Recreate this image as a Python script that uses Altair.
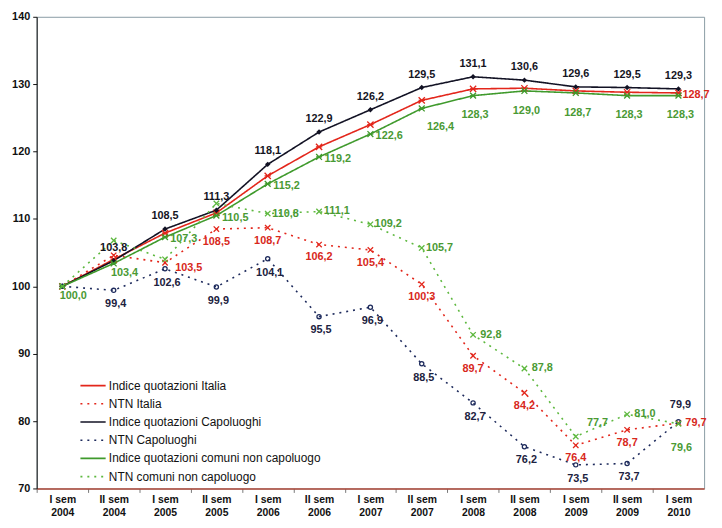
import altair as alt
import pandas as pd

cats = ["I sem 2004", "II sem 2004", "I sem 2005", "II sem 2005", "I sem 2006",
        "II sem 2006", "I sem 2007", "II sem 2007", "I sem 2008", "II sem 2008",
        "I sem 2009", "II sem 2009", "I sem 2010"]

series_names = ["Indice quotazioni Italia", "NTN Italia", "Indice quotazioni Capoluoghi",
                "NTN Capoluoghi", "Indice quotazioni comuni non capoluogo",
                "NTN comuni non capoluogo"]

idx_italia = [100.0, 104.0, 107.9, 110.9, 116.4, 120.7, 124.0, 127.6, 129.3, 129.4, 129.0, 128.8, 128.7]
ntn_italia = [100.0, 104.6, 103.5, 108.5, 108.7, 106.2, 105.4, 100.3, 89.7, 84.2, 76.4, 78.7, 79.7]
idx_capo = [100.0, 103.8, 108.5, 111.3, 118.1, 122.9, 126.2, 129.5, 131.1, 130.6, 129.6, 129.5, 129.3]
ntn_capo = [100.0, 99.4, 102.6, 99.9, 104.1, 95.5, 96.9, 88.5, 82.7, 76.2, 73.5, 73.7, 79.9]
idx_noncapo = [100.0, 103.4, 107.3, 110.5, 115.2, 119.2, 122.6, 126.4, 128.3, 129.0, 128.7, 128.3, 128.3]
ntn_noncapo = [100.0, 106.8, 104.0, 112.3, 110.8, 111.1, 109.2, 105.7, 92.8, 87.8, 77.7, 81.0, 79.6]

all_values = [idx_italia, ntn_italia, idx_capo, ntn_capo, idx_noncapo, ntn_noncapo]

rows = []
for name, vals in zip(series_names, all_values):
    for i, (c, v) in enumerate(zip(cats, vals)):
        rows.append({"series": name, "cat": c, "idx": i, "value": v,
                     "label": f"{v:.1f}".replace(".", ",")})
df = pd.DataFrame(rows)

colors = ["#e3261b", "#e3261b", "#121224", "#1d2a5c", "#3f9a2c", "#5db83e"]
dashes = [[1, 0], [2, 5], [1, 0], [2, 5], [1, 0], [2, 5]]

FONT = "Liberation Sans"
W = 675
H = 477
HALF_BAND = W / len(cats) / 2

x_enc = alt.X("cat:N", sort=cats,
              scale=alt.Scale(type="point", padding=0.5),
              axis=alt.Axis(title=None, labelAngle=0,
                            labelExpr="[slice(datum.value, 0, -5), slice(datum.value, -4)]",
                            labelFont=FONT, labelFontSize=10.5, labelFontWeight="bold",
                            labelColor="#111", labelLineHeight=13, labelPadding=2,
                            domainColor="#b04a3a", domainWidth=1.5, tickColor="#777",
                            tickSize=4, tickOffset=-HALF_BAND, labelOffset=HALF_BAND))
y_enc = alt.Y("value:Q", scale=alt.Scale(domain=[70, 140], nice=False, zero=False),
              axis=alt.Axis(title=None, values=[70, 80, 90, 100, 110, 120, 130, 140],
                            grid=False, labelFont=FONT, labelFontSize=11,
                            labelFontWeight="bold", labelColor="#111", labelPadding=3,
                            domainColor="#111", tickColor="#111", tickSize=4))

legend = alt.Legend(title=None, orient="none", legendX=43, legendY=366,
                    symbolType="stroke", symbolSize=650, symbolStrokeWidth=1.6,
                    labelFont=FONT, labelFontSize=12, labelColor="#111",
                    clipHeight=14, rowPadding=4.4, labelOffset=2, labelLimit=400)

lines = alt.Chart(df).mark_line(strokeWidth=1.6).encode(
    x=x_enc, y=y_enc,
    color=alt.Color("series:N", sort=series_names,
                    scale=alt.Scale(domain=series_names, range=colors), legend=legend),
    strokeDash=alt.StrokeDash("series:N", sort=series_names,
                              scale=alt.Scale(domain=series_names, range=dashes),
                              legend=legend),
)

xpath = "M-1,-1L1,1M-1,1L1,-1"
astpath = "M-1,-1L1,1M-1,1L1,-1M-1,0L1,0"
point_styles = [
    (series_names[0], astpath, colors[0], False, 40),
    (series_names[1], xpath, colors[1], False, 30),
    (series_names[2], "diamond", colors[2], True, 30),
    (series_names[3], "circle", colors[3], False, 18),
    (series_names[4], astpath, colors[4], False, 35),
    (series_names[5], xpath, colors[5], False, 30),
]
layers = [lines]
for name, shape, col, filled, size in point_styles:
    layers.append(
        alt.Chart(df).transform_filter(f"datum.series === '{name}'")
        .mark_point(shape=shape, color=col, filled=filled, size=size, strokeWidth=1.3, opacity=1)
        .encode(x=x_enc, y=y_enc)
    )

red_lbl = "#d8281c"
black_lbl = "#15151f"
navy_lbl = "#1c2240"
green_lbl = "#4a9a34"

label_specs = [
    (series_names[0], [12], 4, 2, "left", red_lbl),
    (series_names[1], [2], 24, 5, "center", red_lbl),
    (series_names[1], [3, 4, 5, 6, 7, 8, 9, 10, 11], 0, 13, "center", red_lbl),
    (series_names[1], [12], 7, 0, "left", red_lbl),
    (series_names[2], list(range(1, 13)), 0, -13, "center", black_lbl),
    (series_names[3], list(range(1, 12)), 2, 14, "center", navy_lbl),
    (series_names[3], [12], 2, -17, "center", navy_lbl),
    (series_names[4], [0, 1], 11, 10, "center", green_lbl),
    (series_names[4], [2, 3, 4, 5, 6], 19, 2, "center", green_lbl),
    (series_names[4], [7], 19, 19, "center", green_lbl),
    (series_names[4], [8, 9, 10, 11, 12], 2, 20, "center", green_lbl),
    (series_names[5], [4, 5, 6, 7, 8, 9, 11], 18, 0, "center", green_lbl),
    (series_names[5], [10], 22, -14, "center", green_lbl),
    (series_names[5], [12], 3, 25, "center", green_lbl),
]
for name, idxs, dx, dy, align, col in label_specs:
    idx_list = ",".join(str(i) for i in idxs)
    layers.append(
        alt.Chart(df).transform_filter(
            f"datum.series === '{name}' && indexof([{idx_list}], datum.idx) >= 0")
        .mark_text(dx=dx, dy=dy, align=align, baseline="middle", font=FONT,
                   fontSize=11, fontWeight="bold", color=col)
        .encode(x=x_enc, y=y_enc, text="label:N")
    )

chart = alt.layer(*layers).properties(
    width=W, height=H,
    autosize=alt.AutoSizeParams(type="none"),
    padding={"left": 29, "top": 6, "right": 10, "bottom": 29},
    background="white",
).configure_view(stroke="#8a9ca4", strokeWidth=1)

chart.save("out.html", embed_options={"renderer": "svg", "actions": False})
